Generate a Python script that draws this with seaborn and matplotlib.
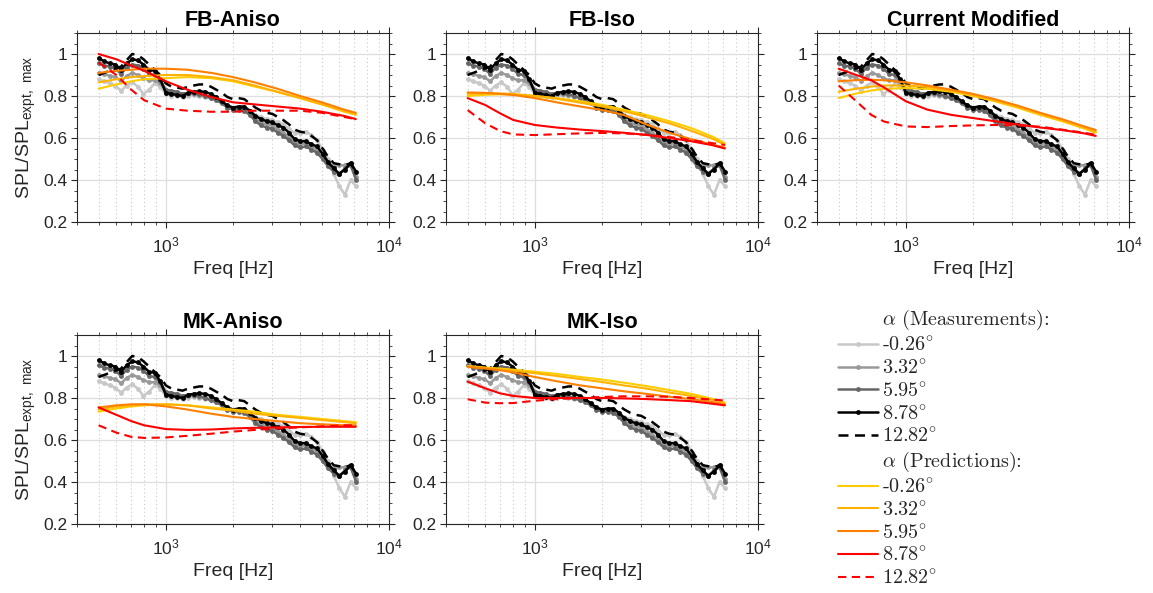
import numpy as np
import pandas as pd
import matplotlib
matplotlib.use("Agg")
import matplotlib.pyplot as plt
from matplotlib.lines import Line2D
from matplotlib.ticker import FixedLocator, MultipleLocator, NullFormatter, FixedFormatter
from matplotlib.font_manager import FontProperties
import seaborn as sns

# ---------------- data ----------------
freq_meas = [500, 530, 561, 595, 630, 667, 707, 749, 794, 841, 891, 944,
             1000, 1059, 1122, 1189, 1260, 1335, 1414, 1498, 1587, 1682, 1782, 1888,
             2000, 2119, 2245, 2378, 2520, 2670, 2828, 2997, 3175, 3364, 3564, 3775,
             4000, 4238, 4490, 4757, 5040, 5339, 5657, 5993, 6350, 6727, 7127]

meas_m026 = [0.88, 0.87, 0.86, 0.85, 0.825, 0.85, 0.865, 0.845, 0.81, 0.83, 0.86, 0.845,
             0.81, 0.80, 0.80, 0.795, 0.80, 0.805, 0.80, 0.795, 0.79, 0.785, 0.77, 0.755,
             0.745, 0.745, 0.745, 0.73, 0.71, 0.70, 0.69, 0.685, 0.675, 0.665, 0.645, 0.625,
             0.625, 0.63, 0.615, 0.59, 0.545, 0.50, 0.43, 0.37, 0.33, 0.40, 0.37]
meas_332 = [0.91, 0.905, 0.895, 0.89, 0.87, 0.895, 0.91, 0.90, 0.885, 0.875, 0.875, 0.86,
            0.825, 0.82, 0.81, 0.805, 0.81, 0.81, 0.805, 0.80, 0.795, 0.785, 0.77, 0.75,
            0.74, 0.74, 0.735, 0.715, 0.69, 0.675, 0.665, 0.66, 0.64, 0.625, 0.605, 0.58,
            0.57, 0.575, 0.56, 0.545, 0.515, 0.48, 0.465, 0.47, 0.47, 0.48, 0.415]
meas_595 = [0.955, 0.945, 0.94, 0.93, 0.905, 0.935, 0.95, 0.945, 0.93, 0.905, 0.90, 0.875,
            0.83, 0.825, 0.82, 0.81, 0.815, 0.815, 0.81, 0.80, 0.79, 0.78, 0.765, 0.745,
            0.735, 0.735, 0.73, 0.71, 0.68, 0.66, 0.65, 0.645, 0.625, 0.61, 0.59, 0.565,
            0.555, 0.56, 0.545, 0.53, 0.50, 0.465, 0.44, 0.43, 0.455, 0.47, 0.40]
meas_878 = [0.98, 0.965, 0.955, 0.95, 0.925, 0.955, 0.975, 0.97, 0.95, 0.925, 0.92, 0.88,
            0.815, 0.81, 0.805, 0.80, 0.815, 0.82, 0.822, 0.82, 0.81, 0.795, 0.775, 0.755,
            0.745, 0.75, 0.75, 0.73, 0.705, 0.69, 0.68, 0.675, 0.66, 0.65, 0.625, 0.595,
            0.585, 0.585, 0.57, 0.56, 0.525, 0.485, 0.455, 0.43, 0.45, 0.48, 0.44]
meas_1282 = [0.90, 0.91, 0.92, 0.93, 0.94, 0.97, 1.0, 0.995, 0.975, 0.95, 0.925, 0.90,
             0.86, 0.845, 0.84, 0.835, 0.845, 0.85, 0.855, 0.855, 0.845, 0.83, 0.815, 0.795,
             0.785, 0.79, 0.785, 0.765, 0.745, 0.73, 0.72, 0.715, 0.70, 0.685, 0.665, 0.64,
             0.63, 0.625, 0.61, 0.59, 0.55, 0.51, 0.48, 0.475, 0.47, 0.48, 0.44]

freq_pred = [500, 600, 700, 800, 1000, 1250, 1600, 2000, 2500, 3150, 4000, 5000, 6300, 7100]

# FB-Aniso predictions (alpha = -0.26, 3.32, 5.95, 8.78, 12.82)
fb_aniso_m026 = [0.835, 0.855, 0.87, 0.88, 0.885, 0.89, 0.885, 0.87, 0.845, 0.82, 0.79, 0.76, 0.725, 0.71]
fb_aniso_332 = [0.865, 0.88, 0.89, 0.895, 0.90, 0.90, 0.89, 0.875, 0.85, 0.82, 0.79, 0.76, 0.73, 0.715]
fb_aniso_595 = [0.91, 0.92, 0.925, 0.93, 0.93, 0.925, 0.91, 0.89, 0.865, 0.835, 0.80, 0.77, 0.735, 0.72]
fb_aniso_878 = [1.0, 0.975, 0.945, 0.92, 0.87, 0.83, 0.795, 0.77, 0.76, 0.75, 0.74, 0.725, 0.705, 0.69]
fb_aniso_1282 = [0.96, 0.90, 0.83, 0.78, 0.74, 0.73, 0.725, 0.725, 0.73, 0.73, 0.73, 0.72, 0.70, 0.69]

# FB-Iso
fb_iso_m026 = [0.80, 0.806, 0.808, 0.807, 0.80, 0.79, 0.775, 0.758, 0.735, 0.71, 0.68, 0.648, 0.605, 0.575]
fb_iso_332 = [0.81, 0.812, 0.812, 0.81, 0.80, 0.787, 0.768, 0.75, 0.728, 0.70, 0.67, 0.635, 0.595, 0.567]
fb_iso_595 = [0.817, 0.815, 0.81, 0.805, 0.79, 0.77, 0.75, 0.733, 0.71, 0.665, 0.625, 0.595, 0.567, 0.555]
fb_iso_878 = [0.79, 0.757, 0.717, 0.686, 0.662, 0.65, 0.64, 0.633, 0.625, 0.615, 0.60, 0.585, 0.565, 0.55]
fb_iso_1282 = [0.733, 0.67, 0.633, 0.617, 0.614, 0.618, 0.622, 0.624, 0.622, 0.615, 0.605, 0.59, 0.575, 0.567]

# Current Modified
cur_mod_m026 = [0.79, 0.812, 0.826, 0.834, 0.838, 0.834, 0.82, 0.80, 0.775, 0.745, 0.71, 0.68, 0.645, 0.625]
cur_mod_332 = [0.82, 0.835, 0.845, 0.85, 0.85, 0.843, 0.825, 0.805, 0.78, 0.75, 0.715, 0.685, 0.65, 0.63]
cur_mod_595 = [0.87, 0.876, 0.877, 0.875, 0.865, 0.85, 0.83, 0.81, 0.785, 0.755, 0.72, 0.69, 0.655, 0.638]
cur_mod_878 = [0.93, 0.90, 0.875, 0.84, 0.775, 0.735, 0.71, 0.695, 0.68, 0.665, 0.65, 0.638, 0.622, 0.61]
cur_mod_1282 = [0.85, 0.775, 0.71, 0.678, 0.655, 0.652, 0.657, 0.66, 0.662, 0.66, 0.654, 0.64, 0.625, 0.615]

# MK-Aniso
mk_aniso_m026 = [0.735, 0.75, 0.76, 0.765, 0.77, 0.765, 0.755, 0.745, 0.735, 0.72, 0.71, 0.70, 0.69, 0.685]
mk_aniso_332 = [0.745, 0.76, 0.765, 0.77, 0.77, 0.765, 0.75, 0.74, 0.725, 0.715, 0.705, 0.695, 0.685, 0.68]
mk_aniso_595 = [0.755, 0.765, 0.77, 0.77, 0.76, 0.745, 0.725, 0.71, 0.70, 0.69, 0.68, 0.675, 0.67, 0.67]
mk_aniso_878 = [0.755, 0.72, 0.69, 0.67, 0.652, 0.648, 0.65, 0.655, 0.658, 0.66, 0.662, 0.663, 0.663, 0.663]
mk_aniso_1282 = [0.67, 0.635, 0.615, 0.61, 0.612, 0.62, 0.63, 0.64, 0.648, 0.655, 0.66, 0.665, 0.67, 0.67]

# MK-Iso
mk_iso_m026 = [0.952, 0.945, 0.94, 0.935, 0.925, 0.915, 0.90, 0.888, 0.873, 0.857, 0.838, 0.82, 0.795, 0.778]
mk_iso_332 = [0.95, 0.943, 0.935, 0.93, 0.918, 0.905, 0.89, 0.876, 0.86, 0.845, 0.826, 0.81, 0.79, 0.772]
mk_iso_595 = [0.948, 0.94, 0.932, 0.922, 0.90, 0.88, 0.86, 0.846, 0.832, 0.82, 0.806, 0.795, 0.78, 0.768]
mk_iso_878 = [0.878, 0.846, 0.822, 0.81, 0.80, 0.80, 0.80, 0.80, 0.798, 0.795, 0.79, 0.785, 0.772, 0.765]
mk_iso_1282 = [0.794, 0.778, 0.775, 0.776, 0.787, 0.795, 0.80, 0.805, 0.808, 0.808, 0.806, 0.80, 0.792, 0.788]

panel_titles = ["FB-Aniso", "FB-Iso", "Current Modified", "MK-Aniso", "MK-Iso"]
alpha_labels = ["-0.26", "3.32", "5.95", "8.78", "12.82"]
yticks = [0.2, 0.4, 0.6, 0.8, 1.0]
ytick_labels = ["0.2", "0.4", "0.6", "0.8", "1"]

# ---------------- styling ----------------
sns.set_theme(style="white")
plt.rcParams['font.family'] = ['Liberation Sans', 'DejaVu Sans']
plt.rcParams['axes.edgecolor'] = '#262626'
plt.rcParams['axes.linewidth'] = 0.8

meas_colors = ['#c8c8c8', '#999999', '#666666', '#000000', '#000000']
meas_styles = ['-', '-', '-', '-', (0, (4, 2.6))]
meas_markers = ['o', 'o', 'o', 'o', None]
pred_colors = ['#ffcc00', '#ffb300', '#ff8000', '#ff0000', '#ff0000']
pred_styles = ['-', '-', '-', '-', (0, (4, 2.6))]

meas_series = [meas_m026, meas_332, meas_595, meas_878, meas_1282]
pred_panels = [
    [fb_aniso_m026, fb_aniso_332, fb_aniso_595, fb_aniso_878, fb_aniso_1282],
    [fb_iso_m026, fb_iso_332, fb_iso_595, fb_iso_878, fb_iso_1282],
    [cur_mod_m026, cur_mod_332, cur_mod_595, cur_mod_878, cur_mod_1282],
    [mk_aniso_m026, mk_aniso_332, mk_aniso_595, mk_aniso_878, mk_aniso_1282],
    [mk_iso_m026, mk_iso_332, mk_iso_595, mk_iso_878, mk_iso_1282],
]

W, H = 1153, 593
fig = plt.figure(figsize=(W / 100, H / 100), dpi=100)

col_left = [77, 446, 817]
row_top = [33, 335]
ax_w, ax_h = 312, 189
positions = [(0, 0), (0, 1), (0, 2), (1, 0), (1, 1)]

tick_fs = 12.5
label_fs = 14
title_fs = 15.5
meas_lw = 1.8
meas_ms = 3.5

for i, (r, c) in enumerate(positions):
    left = col_left[c] / W
    bottom = (H - row_top[r] - ax_h) / H
    ax = fig.add_axes([left, bottom, ax_w / W, ax_h / H])
    ax.set_xscale('log')
    ax.set_axisbelow(True)

    for j in range(5):
        sns.lineplot(x=freq_meas, y=meas_series[j], ax=ax, color=meas_colors[j],
                     linestyle=meas_styles[j], marker=meas_markers[j], markersize=meas_ms,
                     markeredgewidth=0, linewidth=meas_lw, legend=False, zorder=2 + j * 0.1)
    for j in range(5):
        sns.lineplot(x=freq_pred, y=pred_panels[i][j], ax=ax, color=pred_colors[j],
                     linestyle=pred_styles[j], linewidth=1.5, legend=False, zorder=3 + j * 0.1)

    ax.set_xlim(400, 10000)
    ax.set_ylim(0.2, 1.1)
    ax.xaxis.set_major_locator(FixedLocator([1000, 10000]))
    ax.xaxis.set_major_formatter(FixedFormatter([r'$\mathregular{10^3}$', r'$\mathregular{10^4}$']))
    ax.xaxis.set_minor_locator(FixedLocator([400, 500, 600, 700, 800, 900,
                                             2000, 3000, 4000, 5000, 6000, 7000, 8000, 9000]))
    ax.xaxis.set_minor_formatter(NullFormatter())
    ax.yaxis.set_major_locator(FixedLocator(yticks))
    ax.yaxis.set_major_formatter(FixedFormatter(ytick_labels))
    ax.yaxis.set_minor_locator(MultipleLocator(0.05))

    ax.grid(True, which='major', color='#dedede', linewidth=0.9)
    ax.grid(True, which='minor', axis='x', color='#c8c8c8', linestyle=(0, (1, 2.5)), linewidth=0.8)
    for s in ax.spines.values():
        s.set_visible(True)
        s.set_color('#262626')
        s.set_linewidth(0.8)
    ax.tick_params(which='both', direction='out', top=True, right=True, bottom=True, left=True,
                   colors='#262626', labelcolor='#262626')
    ax.tick_params(which='major', length=4, width=0.8, labelsize=tick_fs, pad=3)
    ax.tick_params(which='minor', length=2.5, width=0.6)
    ax.tick_params(axis='x', which='major', pad=6)

    ax.set_title(panel_titles[i], fontsize=title_fs, fontweight='bold', pad=5, color='#000000')
    ax.set_xlabel('Freq [Hz]', fontsize=label_fs, labelpad=4, color='#262626')
    if c == 0:
        ax.set_ylabel(r'SPL/SPL$_{\mathregular{expt,\ max}}$', fontsize=label_fs,
                      labelpad=4, color='#262626')
    else:
        ax.set_ylabel('')

# ---------------- legend ----------------
handles = []
handles.append(Line2D([], [], linestyle='none', label=r'$\alpha$ (Measurements):'))
for j in range(5):
    handles.append(Line2D([], [], color=meas_colors[j], linestyle=meas_styles[j],
                          marker=meas_markers[j] if meas_markers[j] else 'None', markersize=meas_ms,
                          markeredgewidth=0, linewidth=meas_lw,
                          label=alpha_labels[j] + r'$^{\circ}$'))
handles.append(Line2D([], [], linestyle='none', label=r'$\alpha$ (Predictions):'))
for j in range(5):
    handles.append(Line2D([], [], color=pred_colors[j], linestyle=pred_styles[j],
                          linewidth=1.5, label=alpha_labels[j] + r'$^{\circ}$'))

leg_font = FontProperties(family='cmr10', math_fontfamily='cm', size=14.5)
fig.legend(handles=handles, loc='upper left', bbox_to_anchor=(838 / W, 1 - 308 / H),
           frameon=False, prop=leg_font, handlelength=2.0, handletextpad=0.2,
           labelspacing=0.19, borderpad=0, borderaxespad=0, numpoints=1)

fig.savefig('out.png', dpi=100)
